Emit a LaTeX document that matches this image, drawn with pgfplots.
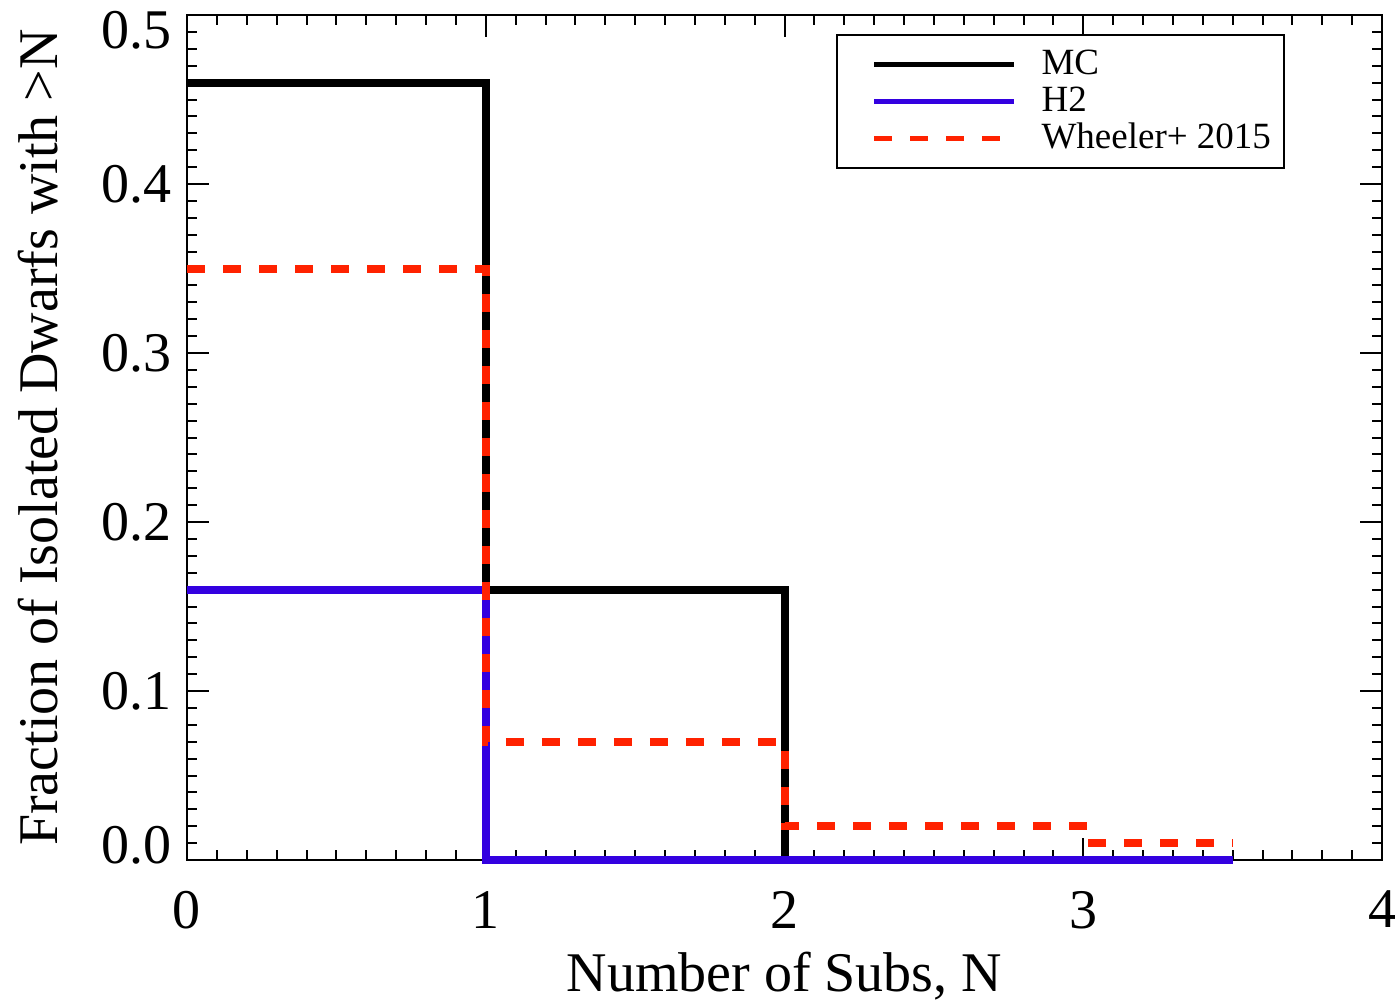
\documentclass[border=0pt]{standalone}
\usepackage{fontspec}
\setmainfont{Liberation Serif}
\usepackage{pgfplots}
\pgfplotsset{compat=1.18}
\definecolor{hblue}{RGB}{51,0,224}
\definecolor{wred}{RGB}{255,34,0}
\begin{document}
\begin{tikzpicture}
\useasboundingbox (-93.5pt,-71pt) rectangle (604pt,430pt);
\begin{axis}[
  at={(0pt,0pt)}, anchor=south west,
  scale only axis, width=597.5pt, height=422.5pt,
  xmin=0, xmax=4, ymin=0, ymax=0.5,
  xtick={0,1,2,3,4}, ytick={0,0.1,0.2,0.3,0.4,0.5},
  minor x tick num=9, minor y tick num=9,
  tick align=inside,
  major tick length=11pt, minor tick length=5pt,
  axis line style={line width=1.3pt},
  tick style={line width=1pt, black},
  clip=false,
  ticklabel style={font=\fontsize{28}{33}\selectfont},
  /pgf/number format/assume math mode=true,
  yticklabel style={/pgf/number format/fixed, /pgf/number format/fixed zerofill,
    /pgf/number format/precision=1, xshift=-4pt,
    yshift={ifthenelse(\ticknum==0,7.5,ifthenelse(\ticknum==5,-7.5,0))*1pt}},
  xticklabel style={yshift=-12pt},
  xlabel={Number of Subs, N},
  ylabel={Fraction of Isolated Dwarfs with >N},
  every axis x label/.style={at={(axis description cs:0.5,0)}, anchor=center,
    yshift=-58pt, font=\fontsize{28}{33}\selectfont},
  every axis y label/.style={at={(axis description cs:0,0.5)}, anchor=center,
    xshift=-74.5pt, rotate=90, font=\fontsize{28}{33}\selectfont},
  legend cell align=left,
  legend style={at={(0.9188,0.9775)}, anchor=north east, draw=black,
    line width=1pt, fill=white, inner xsep=6.5pt, inner ysep=5.5pt,
    row sep=0pt, column sep=12.5pt,
    font=\fontsize{18.5}{22}\selectfont,
    nodes={inner sep=0pt, text height=14pt, text depth=4.5pt}},
  legend image code/.code={
    \path[draw=none, fill=none] (0pt,0pt) rectangle (82pt,0pt);
    \draw[#1, line width=2.5pt] (12pt,0pt) -- (82pt,0pt);},
]
% cumulative fraction of dwarfs hosting more than N subhaloes
\addplot[const plot, black, line width=4pt]
  coordinates {(0,0.46) (1,0.16) (2,0) (3,0) (3.5,0)};
\addlegendentry{MC}
\addplot[const plot, hblue, line width=4pt]
  coordinates {(0,0.16) (1,0) (3.5,0)};
\addlegendentry{H2}
\addplot[const plot, wred, line width=4pt, dash pattern=on 9pt off 9pt]
  coordinates {(0,0.35) (1,0.07) (2,0.02) (3,0.01) (3.5,0.01)};
\addlegendentry{Wheeler+ 2015}
\end{axis}
\end{tikzpicture}
\end{document}
